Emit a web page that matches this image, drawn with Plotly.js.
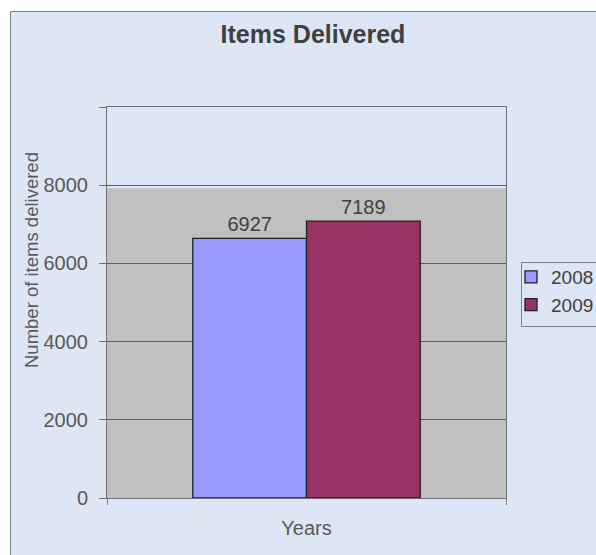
<!DOCTYPE html>
<html>
<head>
<meta charset="utf-8">
<script src="https://cdn.plot.ly/plotly-3.0.1.min.js"></script>
<style>
  html, body { margin: 0; padding: 0; background: #ffffff; }
  #chart { width: 596px; height: 555px; }
</style>
</head>
<body>
<div id="chart"></div>
<script>
// ---- data ----
const category = ['Years'];
const seriesNames = ['2008', '2009'];
const barHeights2008 = [6640];      // bar height as drawn
const barHeights2009 = [7080];      // bar height as drawn
const labels2008 = ['6927'];        // data label text as printed
const labels2009 = ['7189'];
const seriesColors = ['#9999FF', '#993366'];
const yTickVals = [0, 2000, 4000, 6000, 8000, 10000];
const yTickText = ['0', '2000', '4000', '6000', '8000', ''];
const grayBandTop = 7920;

const FONT = 'Arial, "Liberation Sans", sans-serif';
const TXT = '#404040';
const W = 596, H = 555;
const PL = 107, PR = 506, PT = 107, PB = 498;
const px = v => (v - PL) / (PR - PL);     // pixel x -> paper x
const py = v => (PB - v) / (PB - PT);     // pixel y -> paper y

const traces = [
  {
    type: 'bar', name: seriesNames[0], x: category, y: barHeights2008,
    text: labels2008, textposition: 'outside', cliponaxis: false,
    textfont: { family: FONT, size: 20, color: TXT },
    marker: { color: seriesColors[0], line: { color: '#1f1f1f', width: 1.3 } },
    hoverinfo: 'skip'
  },
  {
    type: 'bar', name: seriesNames[1], x: category, y: barHeights2009,
    text: labels2009, textposition: 'outside', cliponaxis: false,
    textfont: { family: FONT, size: 20, color: TXT },
    marker: { color: seriesColors[1], line: { color: '#1f1f1f', width: 1.3 } },
    hoverinfo: 'skip'
  }
];

const layout = {
  width: W, height: H,
  margin: { l: PL, r: W - PR, t: PT, b: H - PB, pad: 0, autoexpand: false },
  paper_bgcolor: '#ffffff',
  plot_bgcolor: 'rgba(0,0,0,0)',
  font: { family: FONT, size: 20, color: '#595959' },
  barmode: 'group', bargap: 0.43, bargroupgap: 0,
  title: {
    text: '<b>Items Delivered</b>',
    font: { family: FONT, size: 25, color: TXT },
    xref: 'container', x: 313 / W, xanchor: 'center',
    yref: 'container', y: 1 - 34 / H, yanchor: 'middle'
  },
  xaxis: {
    type: 'category', showticklabels: false,
    ticks: 'outside', tickson: 'boundaries', ticklen: 6, tickcolor: '#7f7f7f', tickwidth: 1,
    showline: true, linecolor: '#6f6f6f', linewidth: 1, mirror: true,
    showgrid: false, zeroline: false,
    title: { text: 'Years', font: { family: FONT, size: 20, color: '#595959' }, standoff: 22 }
  },
  yaxis: {
    range: [0, 10000], autorange: false,
    tickmode: 'array', tickvals: yTickVals, ticktext: yTickText,
    ticks: 'outside', ticklen: 7, tickcolor: '#6f6f6f', tickwidth: 1,
    ticklabelstandoff: 7,
    tickfont: { family: FONT, size: 20, color: '#595959' },
    showline: true, linecolor: '#6f6f6f', linewidth: 1, mirror: true,
    showgrid: true, gridcolor: '#5a5a5a', gridwidth: 1,
    zeroline: false
  },
  annotations: [
    { text: 'Number of items delivered', textangle: -90, showarrow: false,
      xref: 'paper', yref: 'paper', x: px(31), y: py(260),
      xanchor: 'center', yanchor: 'middle',
      font: { family: FONT, size: 18.5, color: '#595959' } }
  ],
  legend: {
    xref: 'container', yref: 'container',
    x: 511 / W, xanchor: 'left',
    y: 1 - 258 / H, yanchor: 'top',
    bgcolor: 'rgba(0,0,0,0)', borderwidth: 0,
    font: { family: FONT, size: 19, color: TXT },
    itemwidth: 30, tracegroupgap: 0
  },
  shapes: [
    { type: 'rect', layer: 'below', xref: 'paper', yref: 'paper',
      x0: px(10.5), x1: 2, y0: -1, y1: py(11.5),
      fillcolor: '#dce6f4', line: { color: '#7f7f7f', width: 1 } },
    { type: 'rect', layer: 'below', xref: 'paper', yref: 'y',
      x0: 0, x1: 1, y0: 0, y1: grayBandTop,
      fillcolor: '#c0c0c0', line: { width: 0 } },
    { type: 'rect', layer: 'below', xref: 'paper', yref: 'paper',
      x0: px(521.5), x1: px(640), y0: py(326.5), y1: py(262.5),
      fillcolor: 'rgba(0,0,0,0)', line: { color: '#808080', width: 1 } }
  ],
  showlegend: true
};

Plotly.newPlot('chart', traces, layout, { staticPlot: true, displayModeBar: false });
</script>
</body>
</html>
